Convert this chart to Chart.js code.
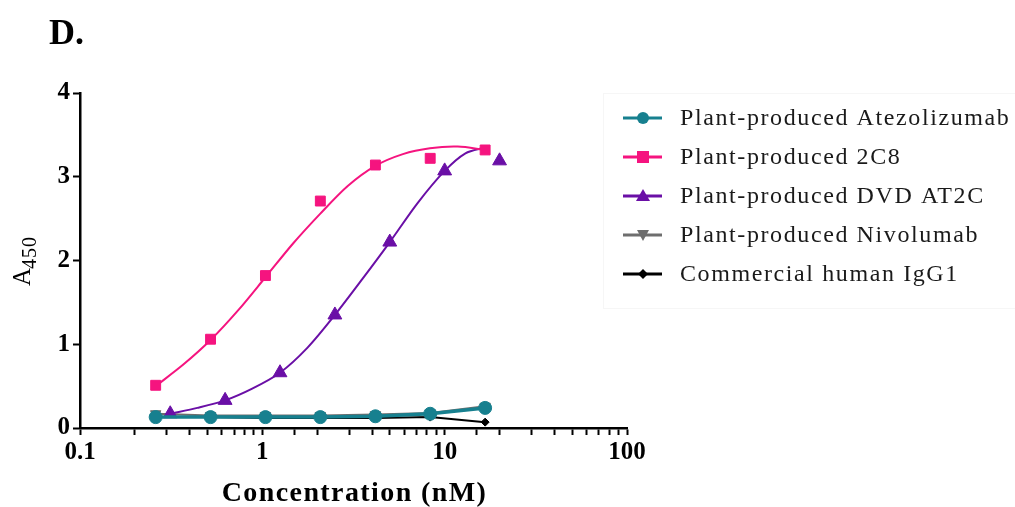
<!DOCTYPE html>
<html>
<head>
<meta charset="utf-8">
<script src="https://cdn.jsdelivr.net/npm/chart.js@4.4.1/dist/chart.umd.min.js"></script>
<style>
html,body{margin:0;padding:0;background:#fff;}
#wrap{position:relative;width:1015px;height:507px;}
</style>
</head>
<body>
<div id="wrap"><canvas id="c" width="1015" height="507"></canvas></div>
<script>
// ---- data ----
const panelLabel = "D.";
const xTitle = "Concentration (nM)";
const xTickLabels = [0.1, 1, 10, 100];
const yTickLabels = [0, 1, 2, 3, 4];

const seriesNames = [
  "Plant-produced Atezolizumab",
  "Plant-produced 2C8",
  "Plant-produced DVD AT2C",
  "Plant-produced Nivolumab",
  "Commercial human IgG1"
];

const concLow = [0.26, 0.52, 1.04, 2.08, 4.17, 8.33, 16.67];
const concDVD = [0.3125, 0.625, 1.25, 2.5, 5, 10, 20];

const atezo = [0.13, 0.13, 0.13, 0.13, 0.14, 0.17, 0.24];
const c2C8  = [0.51, 1.06, 1.82, 2.71, 3.14, 3.22, 3.32];
const dvd   = [0.17, 0.33, 0.66, 1.35, 2.22, 3.07, 3.19];
const nivo  = [0.17, 0.15, 0.15, 0.15, 0.16, 0.18, 0.26];
const igg1  = [0.13, 0.13, 0.12, 0.12, 0.12, 0.13, 0.07];

// fitted curves
const fit2C8X = [0.26, 0.37, 0.52, 0.74, 1.04, 1.47, 2.08, 2.94, 4.17, 5.9, 8.3, 11.8, 16.67];
const fit2C8Y = [0.50, 0.76, 1.05, 1.41, 1.80, 2.20, 2.56, 2.89, 3.13, 3.27, 3.34, 3.36, 3.32];
const fitDVDX = [0.3125, 0.44, 0.625, 0.88, 1.25, 1.77, 2.5, 3.54, 5, 7.07, 10, 13, 16.67];
const fitDVDY = [0.17, 0.24, 0.33, 0.47, 0.66, 0.96, 1.35, 1.78, 2.22, 2.68, 3.07, 3.28, 3.35];

const colors = ["#17808f", "#f5147f", "#6a0fa6", "#6e6e6e", "#000000"];

const pts = (xs, ys) => xs.map((x, i) => ({x: x, y: ys[i]}));

const SERIF = "'Liberation Serif', 'Times New Roman', serif";

const overlay = {
  id: 'overlay',
  afterDraw(chart) {
    const ctx = chart.ctx;
    ctx.save();
    ctx.letterSpacing = '0px';
    // panel label
    ctx.fillStyle = '#000';
    ctx.font = "bold 36px " + SERIF;
    ctx.textBaseline = 'alphabetic';
    ctx.textAlign = 'left';
    ctx.fillText(panelLabel, 49, 44);
    // x title
    ctx.letterSpacing = '1.4px';
    ctx.font = "bold 28px " + SERIF;
    ctx.textAlign = 'center';
    ctx.textBaseline = 'middle';
    const xs = chart.scales.x;
    ctx.fillText(xTitle, (xs.left + xs.right) / 2 + 1, 494);
    // y title A450 rotated
    ctx.letterSpacing = '1px';
    ctx.textAlign = 'left';
    ctx.textBaseline = 'alphabetic';
    ctx.translate(30, 286);
    ctx.rotate(-Math.PI / 2);
    ctx.font = "25px " + SERIF;
    ctx.fillText("A", 0, 0);
    const aw = ctx.measureText("A").width;
    ctx.font = "20px " + SERIF;
    ctx.fillText("450", aw - 2, 6);
    ctx.restore();

    // legend
    ctx.save();
    ctx.strokeStyle = '#f6f6f6';
    ctx.lineWidth = 1;
    ctx.strokeRect(603.5, 93.5, 420, 215);
    const rows = [118, 157, 196, 235, 274];
    const styles = ['circle', 'rect', 'triangle', 'invtriangle', 'diamond'];
    for (let i = 0; i < 5; i++) {
      const y = rows[i];
      ctx.strokeStyle = colors[i];
      ctx.fillStyle = colors[i];
      ctx.lineWidth = 3;
      ctx.beginPath();
      ctx.moveTo(623, y); ctx.lineTo(662, y); ctx.stroke();
      const cx = 643;
      ctx.beginPath();
      if (styles[i] === 'circle') { ctx.arc(cx, y, 6, 0, Math.PI * 2); }
      else if (styles[i] === 'rect') { ctx.rect(cx - 6, y - 6, 12, 12); }
      else if (styles[i] === 'triangle') { ctx.moveTo(cx, y - 7); ctx.lineTo(cx + 7, y + 5); ctx.lineTo(cx - 7, y + 5); ctx.closePath(); }
      else if (styles[i] === 'invtriangle') { ctx.moveTo(cx, y + 6); ctx.lineTo(cx + 6, y - 5); ctx.lineTo(cx - 6, y - 5); ctx.closePath(); }
      else { ctx.moveTo(cx, y - 5); ctx.lineTo(cx + 5, y); ctx.lineTo(cx, y + 5); ctx.lineTo(cx - 5, y); ctx.closePath(); }
      ctx.fill();
      ctx.fillStyle = '#1a1a1a';
      ctx.letterSpacing = '1.6px';
      ctx.font = "24px " + SERIF;
      ctx.textBaseline = 'middle';
      ctx.textAlign = 'left';
      ctx.fillText(seriesNames[i], 680, y + 1);
    }
    ctx.restore();
  }
};

const pointDS = (label, data, color, style, radius, showLine, extra) => Object.assign({
  label: label,
  data: data,
  borderColor: color,
  backgroundColor: color,
  pointBackgroundColor: color,
  pointBorderColor: color,
  pointStyle: style,
  pointRadius: radius,
  pointBorderWidth: 1,
  borderWidth: 3,
  showLine: showLine,
  tension: 0
}, extra || {});

const datasets = [
  pointDS(seriesNames[0], pts(concLow, atezo), colors[0], 'circle', 6.5, true, {borderWidth: 3.5}),
  pointDS(seriesNames[1], pts(concLow, c2C8), colors[1], 'rect', 7, false),
  pointDS(seriesNames[2], pts(concDVD, dvd), colors[2], 'triangle', 8, false),
  {
    label: 'fit2C8', data: pts(fit2C8X, fit2C8Y), borderColor: colors[1], borderWidth: 2,
    pointRadius: 0, showLine: true, tension: 0.3, fill: false
  },
  {
    label: 'fitDVD', data: pts(fitDVDX, fitDVDY), borderColor: colors[2], borderWidth: 2,
    pointRadius: 0, showLine: true, tension: 0.3, fill: false
  },
  pointDS(seriesNames[3], pts(concLow, nivo), colors[3], 'triangle', 6, true, {pointRotation: 180, borderWidth: 2}),
  pointDS(seriesNames[4], pts(concLow, igg1), colors[4], 'rectRot', 4, true, {borderWidth: 2})
];

new Chart(document.getElementById('c'), {
  type: 'scatter',
  data: { datasets: datasets },
  options: {
    responsive: false,
    animation: false,
    layout: { padding: { top: 93, right: 388, left: 0, bottom: 0 } },
    plugins: { legend: { display: false }, tooltip: { enabled: false }, title: { display: false } },
    scales: {
      x: {
        type: 'logarithmic',
        min: 0.1, max: 100,
        border: { display: true, color: '#000', width: 2.5 },
        grid: { display: true, drawOnChartArea: false, drawTicks: true, tickLength: 7, tickColor: '#000', tickWidth: 2 },
        ticks: {
          autoSkip: false, maxRotation: 0, minRotation: 0, padding: 3, color: '#000',
          font: { family: SERIF, size: 25, weight: 'bold' },
          callback: (v) => xTickLabels.some(t => Math.abs(t - v) < 1e-9) ? String(v) : ''
        },
        title: { display: false },
        afterFit: (s) => { s.height = 79; }
      },
      y: {
        type: 'linear',
        min: 0, max: 4,
        border: { display: true, color: '#000', width: 2.5 },
        grid: { display: true, drawOnChartArea: false, drawTicks: true, tickLength: 7, tickColor: '#000', tickWidth: 2 },
        ticks: {
          stepSize: 1, padding: 3, color: '#000',
          font: { family: SERIF, size: 25, weight: 'bold' },
          callback: (v) => yTickLabels.includes(v) ? String(v) : ''
        },
        afterFit: (s) => { s.width = 80; }
      }
    }
  },
  plugins: [overlay]
});
</script>
</body>
</html>
